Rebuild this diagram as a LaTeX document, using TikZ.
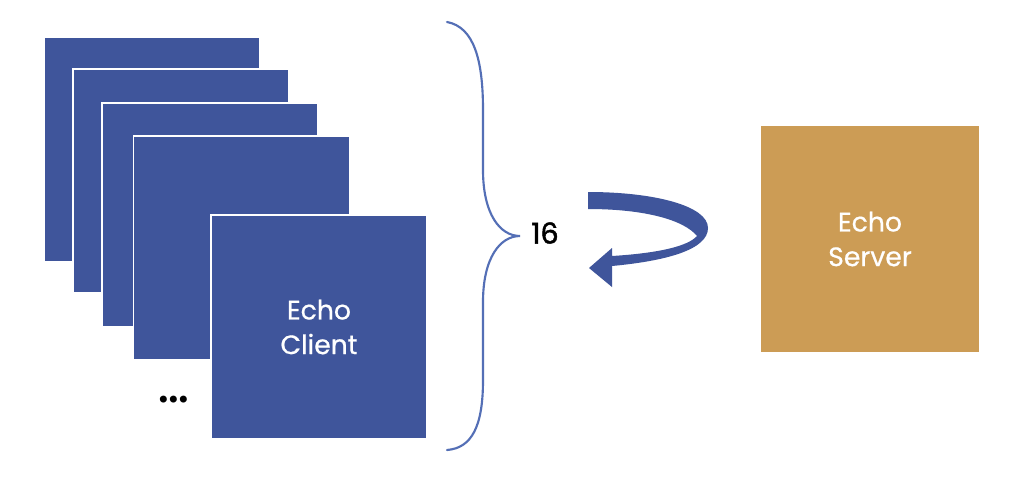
\documentclass[tikz,border=0pt]{standalone}
\usepackage{fontspec}
\setmainfont{Poppins}
\newfontfamily\dotfont{DejaVu Sans}
\newfontfamily\boxfont{Poppins}[FakeBold=0.6]
\newfontfamily\numfont{Poppins}[FakeBold=1.6]
\definecolor{clientblue}{RGB}{63,85,155}
\definecolor{braceblue}{RGB}{84,111,182}
\definecolor{servergold}{RGB}{204,156,85}
\tikzset{
  client/.style={rectangle, fill=clientblue, draw=white, line width=1.2pt,
    minimum width=162pt, minimum height=168pt, inner sep=0pt},
  server/.style={rectangle, fill=servergold, draw=none,
    minimum width=163.5pt, minimum height=170pt, inner sep=0pt},
  boxtext/.style={text=white, font=\boxfont\fontsize{20}{26}\selectfont, align=center},
}
\begin{document}
\begin{tikzpicture}[x=0.75pt,y=-0.75pt]
\useasboundingbox (0,0) rectangle (1024,487);
\fill[white] (0,0) rectangle (1024,487);
% client stack
\node[client] (c1) at (152,149.5) {};
\node[client] (c2) at (181,181) {};
\node[client] (c3) at (210,215) {};
\node[client] (c4) at (241.5,248) {};
\node[client, boxtext] (c5) at (319,327) {Echo\\Client};
\node[font=\dotfont\fontsize{18}{18}\selectfont, inner sep=0pt] (dots) at (173.5,402) {•\kern-3.1pt•\kern-3.1pt•};
% brace
\draw[braceblue, line width=1.6pt, line cap=round]
  (447,22) .. controls (474,27) and (483,60) .. (483,110)
  -- (483,170) .. controls (483,214) and (500,236) .. (520,236)
  .. controls (500,236) and (483,258) .. (483,302)
  -- (483,380) .. controls (483,426) and (472,448) .. (447,450);
\node[font=\numfont\fontsize{21.5}{24}\selectfont, inner sep=0pt] (n16) at (545,233) {16};
% server
\node[server, boxtext] (srv) at (870,239) {Echo\\Server};
% curved arrow
\fill[clientblue]
  (588,192) .. controls (655,192) and (708,206) .. (708,228)
  .. controls (708,250) and (665,261) .. (612,266)
  -- (612,287) -- (589,268) -- (612,248) -- (612,256)
  .. controls (660,253) and (688,246) .. (697,236)
  .. controls (684,220) and (645,209) .. (588,209) -- cycle;
\end{tikzpicture}
\end{document}
